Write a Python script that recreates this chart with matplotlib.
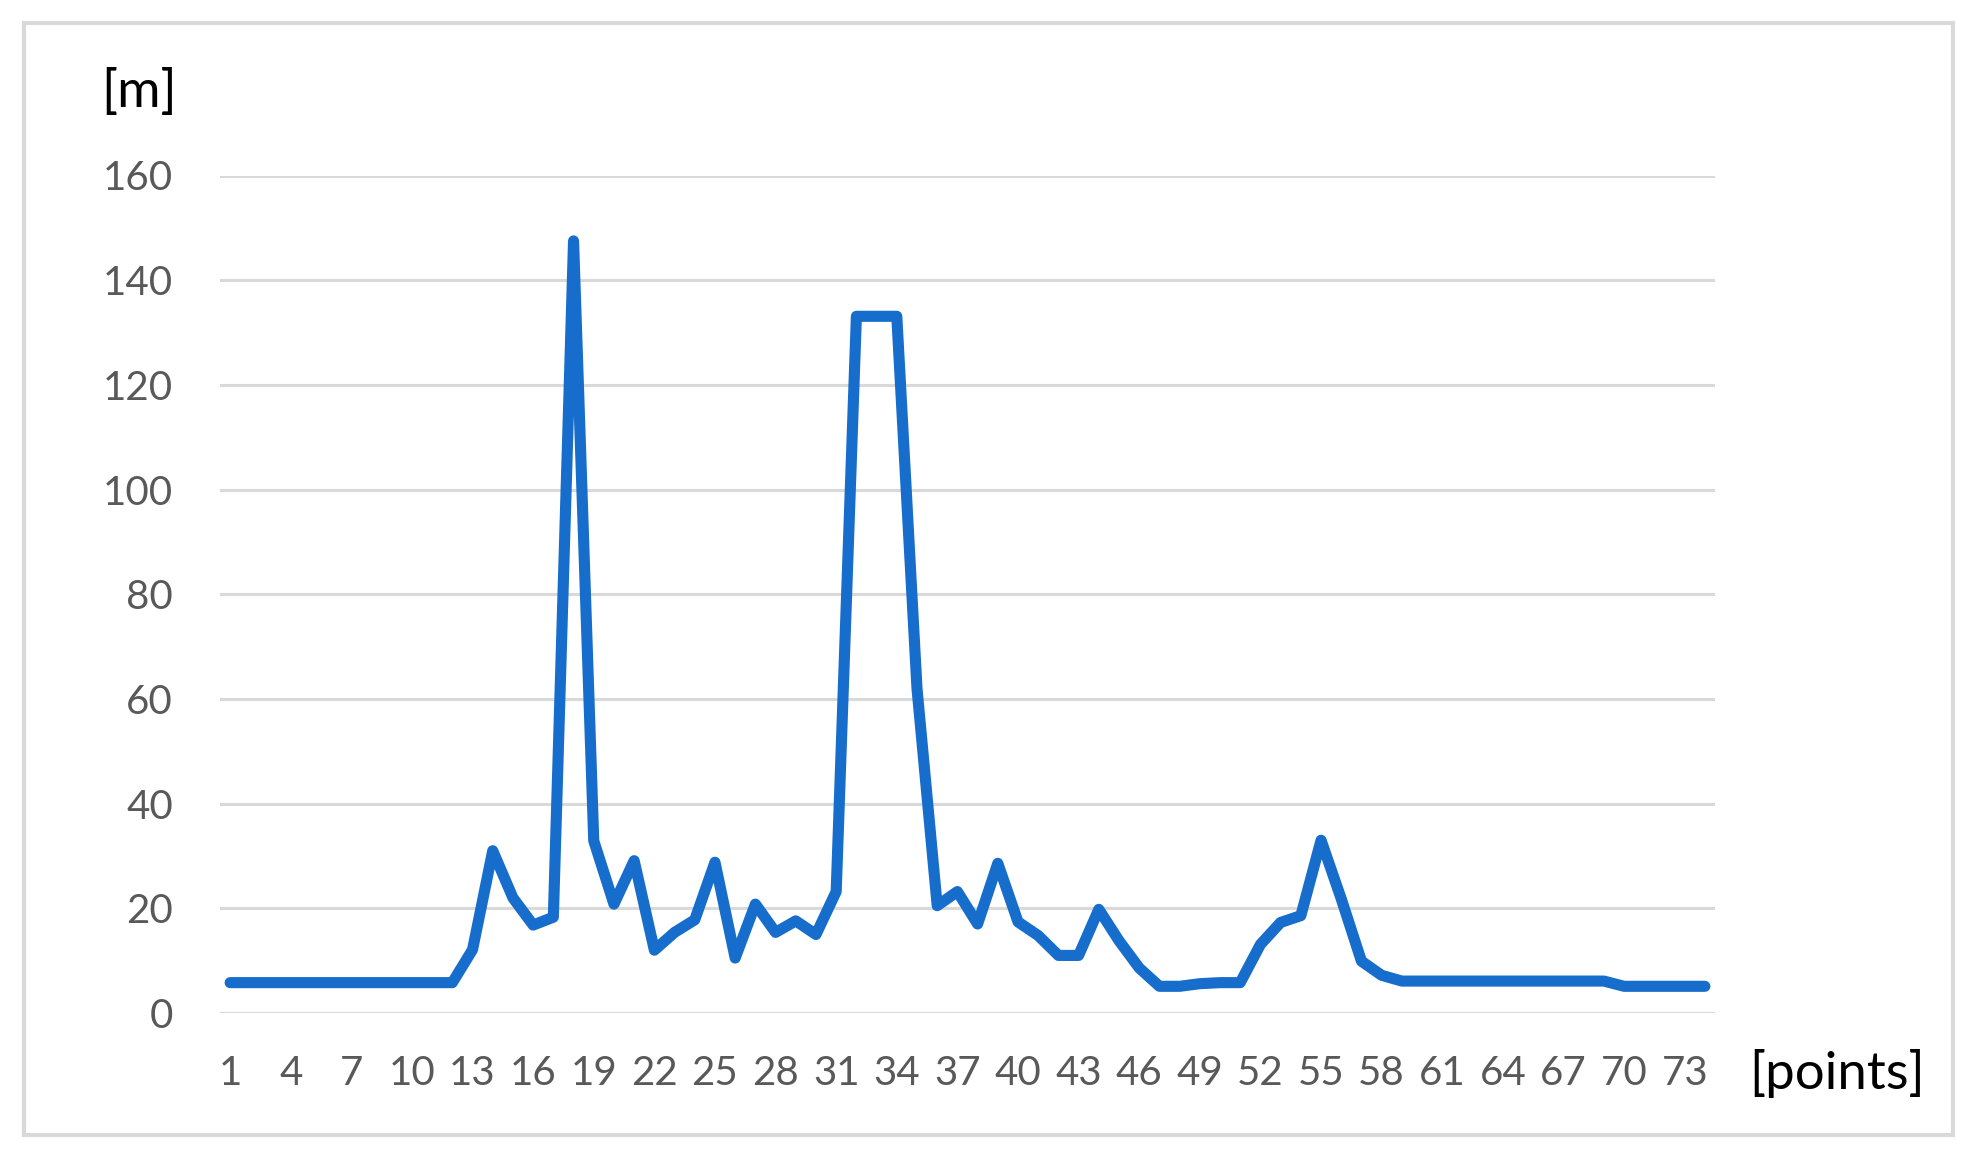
import matplotlib
matplotlib.use("Agg")
import matplotlib.pyplot as plt
from matplotlib.patches import Rectangle

points = list(range(1, 75))
values = [5.8, 5.8, 5.8, 5.8, 5.8, 5.8, 5.8, 5.8, 5.8, 5.8,
          5.8, 5.8, 12.1, 31.0, 22.0, 16.8, 18.3, 147.5, 32.9, 20.8,
          29.1, 12.0, 15.4, 17.8, 28.8, 10.5, 20.8, 15.4, 17.6, 15.0,
          23.2, 133.1, 133.1, 133.1, 62.0, 20.5, 23.2, 17.0, 28.6, 17.4,
          14.8, 11.0, 11.0, 19.8, 13.8, 8.6, 5.1, 5.1, 5.6, 5.8,
          5.8, 13.1, 17.3, 18.6, 33.0, 21.8, 9.9, 7.2, 6.1, 6.1,
          6.1, 6.1, 6.1, 6.1, 6.1, 6.1, 6.1, 6.1, 6.1, 5.1,
          5.1, 5.1, 5.1, 5.1]
y_ticks = [0, 20, 40, 60, 80, 100, 120, 140, 160]
x_tick_labels = list(range(1, 75, 3))
y_unit = "[m]"
x_unit = "[points]"

plt.rcParams['font.family'] = ['Lato', 'DejaVu Sans']

W, H = 1980, 1163
fig = plt.figure(figsize=(W / 100, H / 100), dpi=100)
fig.patch.set_facecolor("white")

# outer light frame
fig.patches.append(Rectangle((24 / W, 1 - 1135 / H), (1953 - 24) / W, (1135 - 23) / H,
                             transform=fig.transFigure, fill=False,
                             edgecolor="#d9d9d9", linewidth=3))

left, right = 220 / W, 1715 / W
bottom, top = 1 - 1013 / H, 1 - 175.5 / H
ax = fig.add_axes([left, bottom, right - left, top - bottom])

ax.plot(points, values, color="#176dcb", linewidth=8,
        solid_capstyle="round", solid_joinstyle="round", zorder=3)

ax.set_xlim(0.5, 74.5)
ax.set_ylim(0, 160)
ax.set_yticks(y_ticks)
ax.set_xticks(x_tick_labels)
ax.set_xticklabels([str(v) for v in x_tick_labels])
ax.yaxis.grid(True, color="#d9d9d9", linewidth=2.2, zorder=0)
ax.xaxis.grid(False)
for s in ax.spines.values():
    s.set_visible(False)
ax.tick_params(axis="both", length=0, labelsize=29, labelcolor="#595959")
ax.tick_params(axis="y", pad=34)
ax.tick_params(axis="x", pad=30)

fig.text(139 / W, 1 - 92 / H, y_unit, fontsize=38, color="black",
         ha="center", va="center")
fig.text(1837 / W, 1 - 1073 / H, x_unit, fontsize=38, color="black",
         ha="center", va="center")

fig.savefig("out.png", dpi=100, facecolor="white")
